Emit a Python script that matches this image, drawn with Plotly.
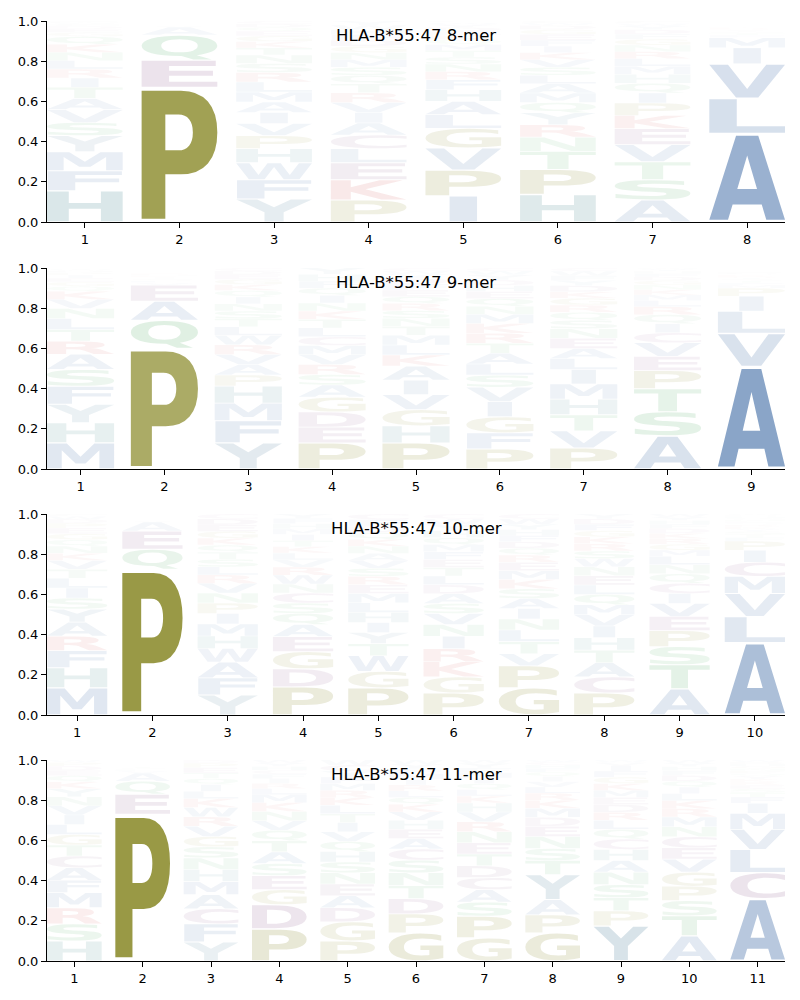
import glob
import struct
import plotly.graph_objects as go

# ---------------- data (letters listed bottom -> top, heights per letter) -------------
titles = ["HLA-B*55:47 8-mer", "HLA-B*55:47 9-mer", "HLA-B*55:47 10-mer", "HLA-B*55:47 11-mer"]

logo_8mer = [
    ("HFMYSVATIRLNKQGEDCWP", [.155, .10, .095, .08, .065, .064, .056, .055, .046, .045, .042, .041, .04, .039, .02, .018, .014, .01, .008, .006]),
    ("PEQAVLSTKDRGNMIFYHCW", [.67, .135, .125, .04, .006, .005, .003, .003, .002, .002, .002, .001, .001, .001, .001, .001, .001, .0005, .0005, .0005]),
    ("YFWHPVIAMLRSNTKGEQDC", [.115, .095, .085, .07, .065, .06, .055, .052, .05, .049, .048, .045, .042, .035, .032, .028, .024, .018, .018, .014]),
    ("PKELCAIVRTQSMNGDFHWY", [.11, .10, .085, .07, .068, .06, .052, .05, .048, .045, .042, .04, .038, .035, .032, .03, .027, .025, .022, .021]),
    ("IPVGLAHFRNSTMQKEDYWC", [.13, .128, .11, .098, .068, .066, .058, .05, .04, .038, .035, .032, .03, .025, .022, .02, .018, .014, .01, .008]),
    ("HPTNRYQMALSVKIFEGDWC", [.137, .125, .09, .07, .062, .06, .05, .048, .046, .042, .04, .038, .035, .032, .03, .028, .025, .02, .012, .01]),
    ("ASTVEKPIQHMLRNGFDYWC", [.11, .10, .09, .085, .08, .065, .062, .05, .048, .045, .04, .038, .035, .032, .03, .025, .022, .018, .013, .012]),
    ("ALVIMFTSYRKQENPGHDCW", [.44, .175, .172, .08, .05, .012, .01, .009, .008, .007, .006, .005, .005, .004, .004, .004, .003, .002, .002, .002]),
]

logo_9mer = [
    ("MHYFSARTLNVKQGEIPDWC", [.13, .10, .092, .09, .083, .076, .065, .058, .055, .05, .045, .04, .025, .022, .018, .016, .012, .01, .008, .005]),
    ("PQAEVLSTKDRNGIMFYHCW", [.60, .14, .095, .08, .012, .01, .009, .008, .007, .007, .006, .005, .005, .004, .004, .003, .002, .002, .001, .001]),
    ("YFMHPAVRWLTSNIQKGEDC", [.13, .11, .088, .085, .055, .052, .05, .048, .046, .044, .04, .038, .036, .034, .032, .03, .026, .024, .018, .014]),
    ("PEDGASRVMCLTKNIQFHYW", [.13, .078, .076, .074, .06, .052, .05, .048, .046, .044, .044, .043, .041, .04, .038, .036, .035, .034, .032, .028]),
    ("PHGVIAKLMTNSRQEFDYWC", [.13, .085, .08, .075, .072, .07, .055, .05, .048, .045, .04, .038, .036, .034, .032, .03, .028, .022, .016, .014]),
    ("PFGIVSLATRKMNQEHDYWC", [.10, .08, .08, .075, .072, .06, .055, .054, .05, .05, .048, .046, .04, .038, .035, .03, .028, .025, .02, .014]),
    ("PVTHMILAENSQRGKDYFWC", [.105, .085, .08, .078, .075, .072, .055, .05, .05, .048, .042, .04, .036, .034, .032, .03, .026, .024, .022, .016]),
    ("ASTPEVCIQRLMKNGDFHYW", [.165, .12, .115, .09, .07, .068, .05, .045, .045, .04, .03, .028, .026, .024, .022, .018, .016, .012, .01, .006]),
    ("AVLIPMFTSYRKQENGHDCW", [.51, .165, .11, .075, .04, .014, .012, .01, .009, .008, .007, .007, .006, .006, .005, .005, .004, .003, .002, .002]),
]

logo_10mer = [
    ("MHFRAYSILTVKNQGEPDWC", [.135, .10, .085, .072, .07, .065, .055, .05, .048, .045, .044, .036, .035, .032, .03, .028, .024, .02, .014, .012]),
    ("PQEAVLSTDKRGNMIFYHCW", [.725, .10, .09, .045, .006, .005, .004, .004, .003, .003, .003, .003, .002, .002, .002, .001, .001, .001, .001, .001]),
    ("YFAWHMIPNVRLSTQKGEDC", [.10, .085, .078, .068, .062, .06, .052, .052, .05, .048, .042, .04, .038, .036, .035, .034, .034, .032, .03, .024]),
    ("PDGEAQSCNWRVLKTIMHFY", [.14, .09, .085, .075, .06, .055, .052, .05, .045, .044, .04, .036, .034, .032, .03, .03, .028, .026, .026, .022]),
    ("PGWTYIHLMERSVANKQDFC", [.135, .082, .078, .06, .055, .05, .05, .048, .046, .044, .042, .04, .038, .036, .036, .034, .034, .032, .032, .028]),
    ("PGKRINVSADLTEFMQHYWC", [.11, .08, .075, .065, .062, .058, .055, .05, .048, .045, .044, .042, .04, .038, .036, .034, .034, .032, .028, .024]),
    ("GPVTLNIASKMERQDFHYWC", [.135, .11, .06, .06, .058, .055, .052, .05, .048, .046, .044, .042, .036, .034, .032, .03, .03, .028, .026, .024]),
    ("PCATHIVMQLENWSRKGFDY", [.11, .08, .07, .063, .062, .058, .056, .05, .05, .048, .046, .045, .04, .038, .036, .034, .032, .03, .028, .024]),
    ("ATSPEVICQNLMGRKDFHYW", [.13, .12, .09, .08, .07, .065, .05, .05, .048, .045, .042, .03, .03, .028, .026, .024, .022, .018, .018, .014]),
    ("ALVMCIPFTSYKRQENGHDW", [.36, .13, .115, .085, .07, .06, .045, .018, .016, .014, .012, .011, .01, .009, .009, .008, .008, .007, .007, .006]),
]

logo_11mer = [
    ("HSRMFACTGLIVNYKQEDPW", [.10, .085, .08, .075, .062, .062, .058, .055, .052, .05, .048, .046, .044, .04, .035, .03, .026, .022, .018, .012]),
    ("PEQAVLSTDKRGNMIFYHCW", [.73, .10, .065, .04, .01, .008, .007, .006, .005, .005, .004, .004, .003, .003, .003, .002, .002, .002, .001, .001]),
    ("YFCAMHNSGVRWKLIQTEPD", [.095, .09, .075, .07, .065, .06, .058, .055, .052, .05, .048, .046, .044, .036, .034, .03, .028, .026, .022, .016]),
    ("PDGESATQVNKMLRIFCHYW", [.16, .12, .075, .07, .06, .058, .055, .052, .048, .046, .044, .04, .03, .026, .024, .022, .02, .018, .018, .014]),
    ("PGDAENSHQVITLKRMFYCW", [.10, .095, .07, .06, .058, .056, .054, .052, .05, .048, .046, .044, .042, .038, .036, .034, .032, .03, .03, .025]),
    ("GPDTNSCAEHVKQLRIMFYW", [.14, .095, .075, .065, .064, .063, .055, .052, .046, .045, .042, .038, .034, .032, .03, .028, .028, .026, .022, .02]),
    ("GPSACDTENRVHKLQIMFYW", [.115, .108, .07, .062, .06, .059, .058, .056, .055, .05, .048, .045, .035, .032, .03, .028, .026, .024, .022, .017]),
    ("GPAYTSNEDMKRLVIQFHCW", [.14, .09, .075, .125, .07, .06, .06, .05, .045, .045, .04, .035, .03, .028, .025, .022, .02, .016, .014, .01]),
    ("YPTSNAHCQLRDEMKGFIVW", [.175, .075, .065, .065, .062, .058, .055, .052, .048, .045, .04, .038, .036, .035, .034, .032, .03, .028, .014, .013]),
    ("ATSPGVECNMRKLIQDFHYW", [.125, .10, .075, .072, .07, .065, .056, .055, .05, .048, .042, .04, .035, .032, .03, .028, .024, .02, .018, .015]),
    ("ACLVMIFTSERKYQPNGHDW", [.31, .13, .115, .10, .08, .05, .03, .022, .02, .018, .016, .015, .014, .013, .013, .012, .012, .01, .01, .01]),
]

panels = [logo_8mer, logo_9mer, logo_10mer, logo_11mer]

# ---------------- style ----------------
group_colors = {
    "AVLIMFW": (25, 78, 148),
    "HY": (20, 105, 112),
    "PG": (115, 115, 0),
    "STNQ": (35, 150, 60),
    "KR": (200, 35, 35),
    "DEC": (110, 45, 110),
}
letter_rgb = {}
for grp, rgb in group_colors.items():
    for ch in grp:
        letter_rgb[ch] = rgb
letter_rgb["Y"] = (35, 95, 130)

LETTER_WIDTH = 0.8
VPAD = 0.05
NO_WIDER_THAN = "E"   # narrow glyphs are not stretched more than this one

# pixel layout (800 x 1000 figure)
X_DOM = [47 / 800, 785 / 800]
Y_PIX = [(21, 222), (268, 469), (514, 715), (760, 961)]


# ---------------- minimal TrueType glyph reader ----------------
def find_font():
    pats = ["/usr/share/fonts/**/DejaVuSans-Bold.ttf",
            "/usr/local/share/fonts/**/DejaVuSans-Bold.ttf",
            "/usr/share/fonts/**/LiberationSans-Bold.ttf"]
    for p in pats:
        r = glob.glob(p, recursive=True)
        if r:
            return r[0]
    return None


def load_glyphs(path, chars):
    data = open(path, "rb").read()
    ntab = struct.unpack(">H", data[4:6])[0]
    tables = {}
    for i in range(ntab):
        tag, _, off, _ln = struct.unpack(">4sIII", data[12 + 16 * i:28 + 16 * i])
        tables[tag.decode("latin1")] = off
    head = tables["head"]
    loc_fmt = struct.unpack(">h", data[head + 50:head + 52])[0]
    maxp = tables["maxp"]
    ng = struct.unpack(">H", data[maxp + 4:maxp + 6])[0]
    lo = tables["loca"]
    if loc_fmt == 0:
        loca = [2 * v for v in struct.unpack(">%dH" % (ng + 1), data[lo:lo + 2 * (ng + 1)])]
    else:
        loca = list(struct.unpack(">%dI" % (ng + 1), data[lo:lo + 4 * (ng + 1)]))
    co = tables["cmap"]
    nsub = struct.unpack(">H", data[co + 2:co + 4])[0]
    cmap = {}
    for i in range(nsub):
        pid, eid, soff = struct.unpack(">HHI", data[co + 4 + 8 * i:co + 12 + 8 * i])
        st = co + soff
        fmt = struct.unpack(">H", data[st:st + 2])[0]
        if fmt != 4:
            continue
        seg2 = struct.unpack(">H", data[st + 6:st + 8])[0]
        ns = seg2 // 2
        ends = struct.unpack(">%dH" % ns, data[st + 14:st + 14 + seg2])
        starts = struct.unpack(">%dH" % ns, data[st + 16 + seg2:st + 16 + 2 * seg2])
        deltas = struct.unpack(">%dh" % ns, data[st + 16 + 2 * seg2:st + 16 + 3 * seg2])
        rb = st + 16 + 3 * seg2
        roffs = struct.unpack(">%dH" % ns, data[rb:rb + seg2])
        for ch in chars:
            c = ord(ch)
            for k in range(ns):
                if starts[k] <= c <= ends[k]:
                    if roffs[k] == 0:
                        cmap[ch] = (c + deltas[k]) & 0xFFFF
                    else:
                        a = rb + 2 * k + roffs[k] + 2 * (c - starts[k])
                        g = struct.unpack(">H", data[a:a + 2])[0]
                        cmap[ch] = (g + deltas[k]) & 0xFFFF if g else 0
                    break
        break
    glyf = tables["glyf"]

    def contours(gid, dx=0, dy=0):
        o = glyf + loca[gid]
        if loca[gid + 1] == loca[gid]:
            return []
        nc = struct.unpack(">h", data[o:o + 2])[0]
        p = o + 10
        if nc < 0:
            out = []
            while True:
                flags, cg = struct.unpack(">HH", data[p:p + 4])
                p += 4
                if flags & 1:
                    a1, a2 = struct.unpack(">hh", data[p:p + 4]); p += 4
                else:
                    a1, a2 = struct.unpack(">bb", data[p:p + 2]); p += 2
                if flags & 8:
                    p += 2
                elif flags & 0x40:
                    p += 4
                elif flags & 0x80:
                    p += 8
                out += contours(cg, dx + a1, dy + a2)
                if not flags & 0x20:
                    break
            return out
        ends = struct.unpack(">%dH" % nc, data[p:p + 2 * nc]); p += 2 * nc
        il = struct.unpack(">H", data[p:p + 2])[0]; p += 2 + il
        npts = ends[-1] + 1
        flags = []
        while len(flags) < npts:
            f = data[p]; p += 1
            flags.append(f)
            if f & 8:
                r = data[p]; p += 1
                flags.extend([f] * r)
        xs, x = [], 0
        for f in flags:
            if f & 2:
                d = data[p]; p += 1
                x += d if f & 16 else -d
            elif not f & 16:
                x += struct.unpack(">h", data[p:p + 2])[0]; p += 2
            xs.append(x)
        ys, y = [], 0
        for f in flags:
            if f & 4:
                d = data[p]; p += 1
                y += d if f & 32 else -d
            elif not f & 32:
                y += struct.unpack(">h", data[p:p + 2])[0]; p += 2
            ys.append(y)
        out, s = [], 0
        for e in ends:
            out.append([(xs[i] + dx, ys[i] + dy, bool(flags[i] & 1)) for i in range(s, e + 1)])
            s = e + 1
        return out

    result = {}
    for ch in chars:
        cs = contours(cmap.get(ch, 0))
        allx = [q[0] for c in cs for q in c]
        ally = [q[1] for c in cs for q in c]
        x0, x1, y0, y1 = min(allx), max(allx), min(ally), max(ally)
        segs_all = []
        for pts in cs:
            if not any(q[2] for q in pts):
                mx = (pts[0][0] + pts[-1][0]) / 2
                my = (pts[0][1] + pts[-1][1]) / 2
                pts = [(mx, my, True)] + pts
            k = next(i for i, q in enumerate(pts) if q[2])
            pts = pts[k:] + pts[:k]
            norm = lambda q: ((q[0] - x0) / (x1 - x0), (q[1] - y0) / (y1 - y0))
            segs = [("M", norm(pts[0]))]
            off = None
            for q in pts[1:] + [pts[0]]:
                if q[2]:
                    if off is None:
                        segs.append(("L", norm(q)))
                    else:
                        segs.append(("Q", off, norm(q)))
                        off = None
                else:
                    nq = norm(q)
                    if off is not None:
                        segs.append(("Q", off, ((off[0] + nq[0]) / 2, (off[1] + nq[1]) / 2)))
                    off = nq
            segs_all.append(segs)
        result[ch] = (segs_all, float(x1 - x0))
    return result


def glyph_path(segs_all, x0, x1, y0, y1):
    w, h = x1 - x0, y1 - y0
    f = lambda pt: "%.4f,%.5f" % (x0 + pt[0] * w, y0 + pt[1] * h)
    parts = []
    for segs in segs_all:
        for s in segs:
            if s[0] == "Q":
                parts.append("Q" + f(s[1]) + " " + f(s[2]))
            else:
                parts.append(s[0] + f(s[1]))
        parts.append("Z")
    return "".join(parts)


AMINO = "ACDEFGHIKLMNPQRSTVWY"
font_path = find_font()
glyphs = None
if font_path:
    try:
        glyphs = load_glyphs(font_path, AMINO + NO_WIDER_THAN)
    except Exception:
        glyphs = None

# ---------------- figure ----------------
fig = go.Figure()
shapes, annotations = [], []
layout_axes = {}

for k, (panel, title) in enumerate(zip(panels, titles)):
    n = len(panel)
    sfx = "" if k == 0 else str(k + 1)
    xname, yname = "x" + sfx, "y" + sfx
    top_px, bot_px = Y_PIX[k]
    ydom = [1 - bot_px / 1000, 1 - top_px / 1000]
    positions = list(range(1, n + 1))

    fig.add_trace(go.Scatter(x=positions, y=[0] * n, mode="markers",
                             marker=dict(opacity=0), hoverinfo="skip",
                             showlegend=False, xaxis=xname, yaxis=yname))

    for pos, (letters, heights) in zip(positions, panel):
        floor = 0.0
        for ch, h in zip(letters, heights):
            r, g, b = letter_rgb[ch]
            alpha = min(1.0, h)
            color = "rgba(%d,%d,%d,%.3f)" % (r, g, b, alpha)
            gy0 = floor + VPAD * h / 2
            gy1 = floor + h - VPAD * h / 2
            if glyphs is not None:
                segs, natural_w = glyphs[ch]
                ref_w = glyphs[NO_WIDER_THAN][1]
                w = LETTER_WIDTH * min(1.0, natural_w / ref_w)
                gx0, gx1 = pos - w / 2, pos + w / 2
                shapes.append(dict(type="path", xref=xname, yref=yname,
                                   path=glyph_path(segs, gx0, gx1, gy0, gy1),
                                   fillcolor=color, line=dict(width=0), layer="above"))
            else:
                annotations.append(dict(x=pos, y=(gy0 + gy1) / 2, xref=xname, yref=yname,
                                        text="<b>%s</b>" % ch, showarrow=False,
                                        font=dict(size=max(4, h * 160), color=color)))
            floor += h

    annotations.append(dict(text=title, x=0.5, y=0.928, xref=xname + " domain",
                            yref=yname + " domain", xanchor="center", yanchor="middle",
                            showarrow=False,
                            font=dict(family="DejaVu Sans", size=16.5, color="black")))

    axis_common = dict(showline=True, linecolor="black", linewidth=1, ticks="outside",
                       ticklen=5, tickwidth=1, tickcolor="black", showgrid=False,
                       zeroline=False, mirror=False, automargin=False,
                       tickfont=dict(family="DejaVu Sans", size=13, color="black"))
    layout_axes["xaxis" + sfx] = dict(axis_common, domain=X_DOM, anchor=yname,
                                      range=[0.6, n + 0.4], tickmode="array",
                                      tickvals=positions, ticktext=[str(p) for p in positions])
    layout_axes["yaxis" + sfx] = dict(axis_common, domain=ydom, anchor=xname,
                                      range=[0, 1], tickmode="array",
                                      tickvals=[0, 0.2, 0.4, 0.6, 0.8, 1.0],
                                      ticktext=["0.0", "0.2", "0.4", "0.6", "0.8", "1.0"])

fig.update_layout(width=800, height=1000, margin=dict(l=0, r=0, t=0, b=0),
                  paper_bgcolor="white", plot_bgcolor="white", showlegend=False,
                  shapes=shapes, annotations=annotations,
                  font=dict(family="DejaVu Sans", color="black"), **layout_axes)

fig.write_html("out.html", config={"displayModeBar": False},
               post_script="document.body.style.margin='0px';document.body.style.overflow='hidden';")
